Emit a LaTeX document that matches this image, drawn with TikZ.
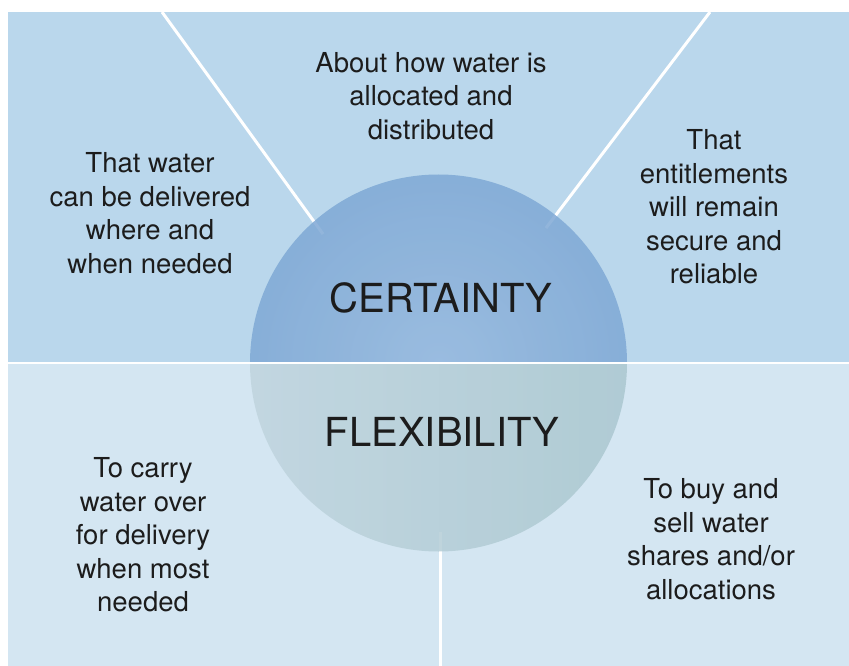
\documentclass[tikz,border=0pt]{standalone}
\usepackage{fontspec}
\setmainfont{TeX Gyre Heros}

\definecolor{topbg}{HTML}{BAD7EC}
\definecolor{bottombg}{HTML}{D4E6F2}
\definecolor{certin}{HTML}{95B8DE}
\definecolor{certout}{HTML}{6898CB}
\definecolor{flexleft}{HTML}{CADBE5}
\definecolor{flexright}{HTML}{9FC0C8}
\definecolor{textgrey}{HTML}{1C1C1C}

\pgfdeclareradialshading{certaintyshade}{\pgfpoint{0bp}{0bp}}{color(0bp)=(certin); color(50bp)=(certout)}
\pgfdeclarehorizontalshading{flexibilityshade}{100bp}{color(0bp)=(flexleft); color(100bp)=(flexright)}

\tikzset{
  bodytext/.style={align=center, inner sep=0pt, text=textgrey, font=\fontsize{27.5}{33.5}\selectfont},
  bigtext/.style={inner sep=0pt, text=textgrey, font=\fontsize{40}{48}\selectfont},
  divider/.style={white, line width=3pt}
}

\begin{document}
\begin{tikzpicture}[x=1pt,y=-1pt]
    \useasboundingbox (0,0) rectangle (849,666);
    \fill[topbg] (8,12) rectangle (849,363);
    \fill[bottombg] (8,363) rectangle (849,666);
    \coordinate (c) at (438.5,363);
    \coordinate (lefttop) at (162,12);
    \coordinate (leftend) at (323,234);
    \coordinate (righttop) at (710,12);
    \coordinate (rightend) at (546,228);
    \coordinate (downend) at (440,532);
    \coordinate (downbottom) at (440,666);
    \draw[divider] (lefttop) -- (leftend);
    \draw[divider] (righttop) -- (rightend);
    \draw[divider] (downend) -- (downbottom);
    % upper half of the circle
    \begin{scope}[opacity=0.85]
        \clip (200,100) rectangle (700,363);
        \shade[shading=certaintyshade] (c) circle (188.5);
    \end{scope}
    % lower half of the circle
    \begin{scope}[opacity=0.85]
        \clip (200,363) rectangle (700,600);
        \shade[shading=flexibilityshade] (c) circle (188.5);
    \end{scope}
    \draw[divider, line width=2.5pt] (8,363) -- (849,363);
    \node[bigtext] (certainty) at (441,298) {CERTAINTY};
    \node[bigtext] (flexibility) at (442,432) {FLEXIBILITY};
    \node[bodytext] (allocated) at (431,96) {About how water is\\allocated and\\distributed};
    \node[bodytext] (delivered) at (150,213) {That water\\can be delivered\\where and\\when needed};
    \node[bodytext] (secure) at (714,207) {That\\entitlements\\will remain\\secure and\\reliable};
    \node[bodytext] (carry) at (143,535) {To carry\\water over\\for delivery\\when most\\needed};
    \node[bodytext] (trade) at (711,539) {To buy and\\sell water\\shares and/or\\allocations};
\end{tikzpicture}
\end{document}
